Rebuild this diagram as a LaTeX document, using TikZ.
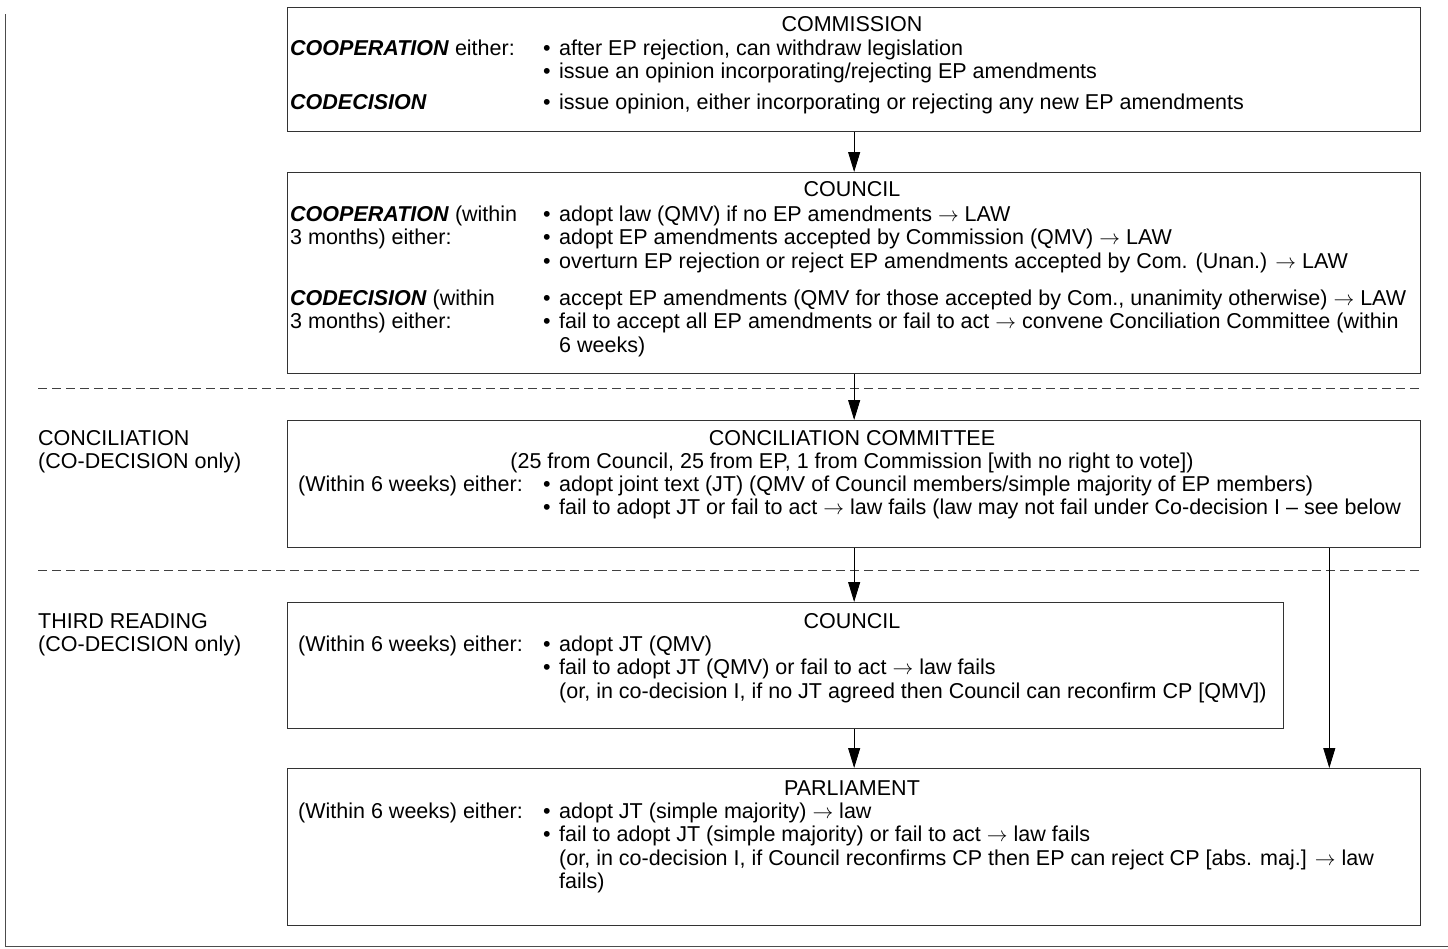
\documentclass[tikz,border=0pt]{standalone}
\usepackage{fontspec}
\setmainfont{Liberation Sans}
\usetikzlibrary{arrows.meta}

\newcommand\mainsize{\fontsize{21.5}{23.5}\selectfont}
\newcommand\proc[1]{\textbf{\textit{#1}}}
\newcommand\tolaw{$\rightarrow$}
\newcommand\blist[1]{\begin{tabular}[t]{@{}l@{\hspace{8.5pt}}l@{}}#1\end{tabular}}
\newcommand\stack[1]{\begin{tabular}[t]{@{}l@{}}#1\end{tabular}}

\begin{document}
\begin{tikzpicture}[x=1pt, y=-1pt,
  stagebox/.style={draw=black!80, line width=1.3pt, inner sep=0pt, anchor=north west},
  txt/.style={inner sep=0pt, anchor=base west, font=\mainsize},
  ttl/.style={inner sep=0pt, anchor=base, font=\mainsize},
  arr/.style={-{Triangle[length=20pt,width=12pt]}, line width=0.9pt},
  sep/.style={dashed, dash pattern=on 9pt off 5pt, line width=0.9pt, black!75}]

\useasboundingbox (0,0) rectangle (1448,948);

% Frame
\draw[line width=0.8pt, black!70] (5,14) -- (5,946) -- (1448,946);

% ── COMMISSION ──────────────────────────────────────────────
\node[stagebox, minimum width=1133pt, minimum height=124pt] (commission) at (287,7) {};
\node[ttl] (commtitle) at (852,31) {COMMISSION};
\node[txt] (commcoop) at (290,55) {\proc{COOPERATION} either:};
\node[txt] (commcooplist) at (543,55) {\blist{\textbullet & after EP rejection, can withdraw legislation\\
  \textbullet & issue an opinion incorporating/rejecting EP amendments}};
\node[txt] (commcodec) at (290,109) {\proc{CODECISION}};
\node[txt] (commcodeclist) at (543,109) {\blist{\textbullet & issue opinion, either incorporating or rejecting any new EP amendments}};

% ── COUNCIL ─────────────────────────────────────────────────
\node[stagebox, minimum width=1133pt, minimum height=201pt] (council) at (287,172) {};
\node[ttl] (counciltitle) at (852,196) {COUNCIL};
\node[txt] (councoop) at (290,221) {\stack{\proc{COOPERATION} (within\\3 months) either:}};
\node[txt] (councooplist) at (543,221) {\blist{\textbullet & adopt law (QMV) if no EP amendments \tolaw{} LAW\\
  \textbullet & adopt EP amendments accepted by Commission (QMV) \tolaw{} LAW\\
  \textbullet & overturn EP rejection or reject EP amendments accepted by Com. (Unan.) \tolaw{} LAW}};
\node[txt] (councodec) at (290,305) {\stack{\proc{CODECISION} (within\\3 months) either:}};
\node[txt] (councodeclist) at (543,305) {\blist{\textbullet & accept EP amendments (QMV for those accepted by Com., unanimity otherwise) \tolaw{} LAW\\
  \textbullet & fail to accept all EP amendments or fail to act \tolaw{} convene Conciliation Committee (within\\
  & 6 weeks)}};

% Stage dividers
\draw[sep] (38,388) -- (1420,388);
\draw[sep] (38,570) -- (1420,570);

% ── CONCILIATION ────────────────────────────────────────────
\node[txt] (concilstage) at (38,445) {\stack{CONCILIATION\\(CO-DECISION only)}};
\node[stagebox, minimum width=1133pt, minimum height=127pt] (concil) at (287,420) {};
\node[ttl] (conciltitle) at (852,445) {CONCILIATION COMMITTEE};
\node[ttl] (concilmembers) at (852,468) {(25 from Council, 25 from EP, 1 from Commission [with no right to vote])};
\node[txt] (concilwithin) at (298,491) {(Within 6 weeks) either:};
\node[txt] (concillist) at (543,491) {\blist{\textbullet & adopt joint text (JT) (QMV of Council members/simple majority of EP members)\\
  \textbullet & fail to adopt JT or fail to act \tolaw{} law fails (law may not fail under Co-decision I -- see below}};

% ── THIRD READING ───────────────────────────────────────────
\node[txt] (thirdstage) at (38,628) {\stack{THIRD READING\\(CO-DECISION only)}};
\node[stagebox, minimum width=996pt, minimum height=126pt] (third) at (287,602) {};
\node[ttl] (thirdtitle) at (852,628) {COUNCIL};
\node[txt] (thirdwithin) at (298,651) {(Within 6 weeks) either:};
\node[txt] (thirdlist) at (543,651) {\blist{\textbullet & adopt JT (QMV)\\
  \textbullet & fail to adopt JT (QMV) or fail to act \tolaw{} law fails\\
  & (or, in co-decision I, if no JT agreed then Council can reconfirm CP [QMV])}};

% ── PARLIAMENT ──────────────────────────────────────────────
\node[stagebox, minimum width=1133pt, minimum height=157pt] (parl) at (287,768) {};
\node[ttl] (parltitle) at (852,795) {PARLIAMENT};
\node[txt] (parlwithin) at (298,818) {(Within 6 weeks) either:};
\node[txt] (parllist) at (543,818) {\blist{\textbullet & adopt JT (simple majority) \tolaw{} law\\
  \textbullet & fail to adopt JT (simple majority) or fail to act \tolaw{} law fails\\
  & (or, in co-decision I, if Council reconfirms CP then EP can reject CP [abs. maj.] \tolaw{} law\\
  & fails)}};

% Flow
\draw[arr] (commission.south) -- (council.north);
\draw[arr] (council.south) -- (concil.north);
\draw[arr] (concil.south) -- (concil.south |- third.north);
\draw[arr] (third.south -| parl.north) -- (parl.north);
\draw[arr] ([xshift=-92pt]concil.south east) -- ([xshift=-92pt]parl.north east);

\end{tikzpicture}
\end{document}
